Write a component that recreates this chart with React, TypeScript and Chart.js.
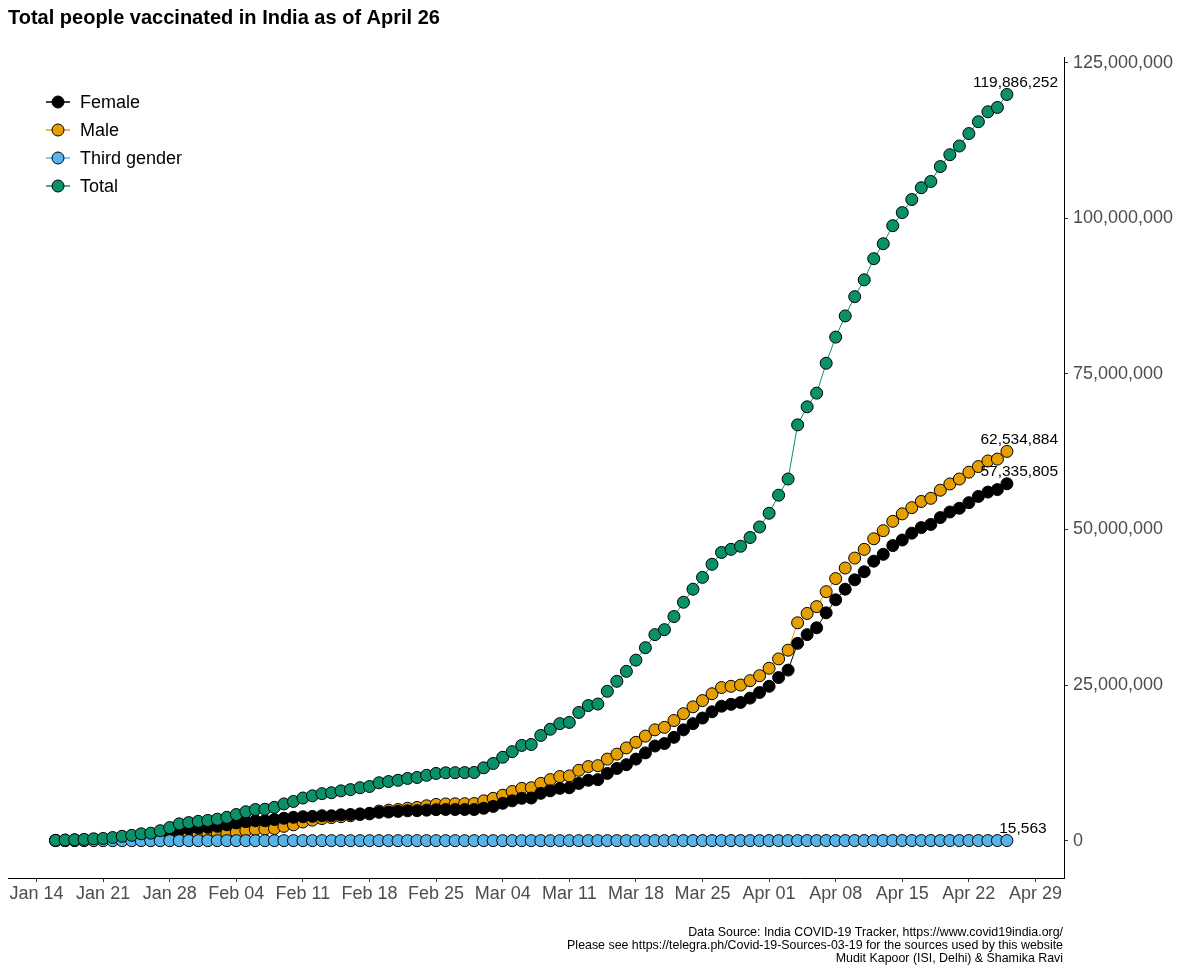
import React, { useEffect, useRef } from 'react';
import { Chart, registerables } from 'chart.js';

Chart.register(...registerables);

// x = days since Jan 14, 2021; first observation is Jan 16
const firstDayOffset = 2;

const seriesNames = ['Female', 'Male', 'Third gender', 'Total'];
const seriesColors = ['#000000', '#E69F00', '#56B4E9', '#0B9169'];

// cumulative people vaccinated, in millions (Jan 16 .. Apr 26)
const femaleMillions = [
  0.03, 0.06, 0.09, 0.12, 0.18, 0.21, 0.30, 0.42, 0.51, 0.66,
  0.72, 0.96, 1.30, 1.70, 1.90, 2.05, 2.15, 2.30, 2.55, 2.85,
  3.05, 3.20, 3.20, 3.40, 3.60, 3.75, 3.85, 3.90, 4.00, 4.00,
  4.15, 4.20, 4.30, 4.40, 4.55, 4.60, 4.70, 4.80, 4.82, 4.90,
  4.98, 5.00, 5.00, 5.00, 5.00, 5.20, 5.50, 6.00, 6.40, 6.80,
  6.85, 7.60, 8.00, 8.40, 8.50, 9.20, 9.70, 9.80, 10.80, 11.60,
  12.20, 13.10, 14.10, 15.20, 15.60, 16.60, 17.80, 18.80, 19.70, 20.70,
  21.60, 21.90, 22.20, 22.90, 23.80, 24.80, 26.20, 27.40, 31.70, 33.10,
  34.20, 36.60, 38.70, 40.40, 41.90, 43.20, 44.90, 46.00, 47.40, 48.30,
  49.40, 50.30, 50.80, 51.90, 52.80, 53.40, 54.30, 55.30, 56.00, 56.40,
  57.335805,
];

const maleMillions = [
  0.02, 0.04, 0.06, 0.08, 0.12, 0.14, 0.20, 0.28, 0.34, 0.44,
  0.48, 0.64, 0.80, 1.00, 1.00, 1.05, 1.10, 1.15, 1.20, 1.35,
  1.60, 1.80, 1.85, 1.95, 2.30, 2.55, 3.00, 3.30, 3.55, 3.70,
  3.85, 4.00, 4.20, 4.30, 4.75, 4.90, 5.00, 5.20, 5.33, 5.60,
  5.82, 5.90, 5.92, 5.94, 5.96, 6.40, 6.80, 7.30, 7.90, 8.40,
  8.50, 9.20, 9.80, 10.30, 10.40, 11.30, 11.90, 12.05, 13.10, 13.90,
  14.90, 15.80, 16.80, 17.80, 18.20, 19.30, 20.40, 21.50, 22.50, 23.60,
  24.60, 24.80, 25.00, 25.70, 26.50, 27.70, 29.20, 30.60, 35.00, 36.50,
  37.60, 40.00, 42.10, 43.80, 45.40, 46.80, 48.50, 49.80, 51.30, 52.50,
  53.50, 54.50, 55.00, 56.30, 57.30, 58.10, 59.20, 60.10, 61.00, 61.30,
  62.534884,
];

// third gender, in thousands
const thirdGenderThousands = [
  0.02, 0.03, 0.05, 0.06, 0.08, 0.09, 0.12, 0.15, 0.18, 0.22,
  0.25, 0.31, 0.38, 0.45, 0.49, 0.52, 0.54, 0.57, 0.61, 0.66,
  0.72, 0.77, 0.78, 0.82, 0.88, 0.93, 1.00, 1.04, 1.08, 1.10,
  1.14, 1.16, 1.19, 1.21, 1.27, 1.29, 1.31, 1.35, 1.37, 1.41,
  1.45, 1.46, 1.46, 1.47, 1.47, 1.56, 1.64, 1.77, 1.88, 2.00,
  2.02, 2.20, 2.33, 2.45, 2.47, 2.68, 2.82, 2.85, 3.12, 3.33,
  3.54, 3.78, 4.04, 4.31, 4.41, 4.68, 4.98, 5.25, 5.50, 5.77,
  6.02, 6.08, 6.15, 6.33, 6.55, 6.84, 7.22, 7.55, 8.68, 9.06,
  9.35, 9.97, 10.52, 10.96, 11.36, 11.71, 12.15, 12.47, 12.84, 13.12,
  13.39, 13.64, 13.77, 14.08, 14.33, 14.51, 14.77, 15.02, 15.22, 15.31,
  15.563,
];

const totalMillions = [
  0.05, 0.10, 0.15, 0.20, 0.30, 0.35, 0.50, 0.70, 0.85, 1.10,
  1.20, 1.60, 2.10, 2.70, 2.90, 3.10, 3.25, 3.45, 3.75, 4.20,
  4.65, 5.00, 5.05, 5.35, 5.90, 6.30, 6.85, 7.20, 7.55, 7.70,
  8.00, 8.20, 8.50, 8.70, 9.30, 9.50, 9.70, 10.00, 10.15, 10.50,
  10.80, 10.90, 10.92, 10.94, 10.96, 11.70, 12.40, 13.40, 14.30, 15.30,
  15.45, 16.90, 17.90, 18.80, 19.00, 20.60, 21.70, 21.95, 24.00, 25.60,
  27.20, 29.00, 31.00, 33.10, 33.90, 36.00, 38.30, 40.40, 42.30, 44.40,
  46.30, 46.80, 47.30, 48.70, 50.40, 52.60, 55.50, 58.10, 66.80, 69.70,
  71.90, 76.70, 80.90, 84.30, 87.40, 90.10, 93.50, 95.90, 98.80, 100.90,
  103.00, 104.90, 105.90, 108.30, 110.20, 111.60, 113.60, 115.50, 117.10, 117.80,
  119.886252,
];

const xTickDays = [0, 7, 14, 21, 28, 35, 42, 49, 56, 63, 70, 77, 84, 91, 98, 105];
const xTickLabels = [
  'Jan 14', 'Jan 21', 'Jan 28', 'Feb 04', 'Feb 11', 'Feb 18', 'Feb 25', 'Mar 04',
  'Mar 11', 'Mar 18', 'Mar 25', 'Apr 01', 'Apr 08', 'Apr 15', 'Apr 22', 'Apr 29',
];
const yTickValues = [0, 25000000, 50000000, 75000000, 100000000, 125000000];

const titleText = 'Total people vaccinated in India as of April 26';
const captionLines = [
  'Data Source: India COVID-19 Tracker, https://www.covid19india.org/',
  'Please see https://telegra.ph/Covid-19-Sources-03-19 for the sources used by this website',
  'Mudit Kapoor (ISI, Delhi) & Shamika Ravi',
];

const FONT = '"Liberation Sans", Arial, Helvetica, sans-serif';
const fmt = (v: number) => Math.round(v).toLocaleString('en-US');

const toPoints = (vals: number[], unit: number) =>
  vals.map((v, i) => ({ x: firstDayOffset + i, y: v * unit }));

const decorPlugin = {
  id: 'decor',
  afterDatasetsDraw(chart: any) {
    const ctx = chart.ctx;
    const area = chart.chartArea;
    ctx.save();
    ctx.font = `15.5px ${FONT}`;
    ctx.fillStyle = '#000';
    ctx.textBaseline = 'middle';
    ctx.textAlign = 'left';
    chart.data.datasets.forEach((ds: any, di: number) => {
      const meta = chart.getDatasetMeta(di);
      const el = meta.data[meta.data.length - 1];
      if (!el) return;
      const txt = fmt(ds.data[ds.data.length - 1].y);
      const w = ctx.measureText(txt).width;
      let cx = el.x + 16;
      if (cx + w / 2 > area.right - 6) cx = area.right - 6 - w / 2;
      ctx.fillText(txt, cx - w / 2, el.y - 12);
    });
    ctx.restore();
  },
  afterDraw(chart: any) {
    const ctx = chart.ctx;
    ctx.save();
    ctx.fillStyle = '#000';
    ctx.font = `bold 20px ${FONT}`;
    ctx.textAlign = 'left';
    ctx.textBaseline = 'alphabetic';
    ctx.fillText(titleText, 8, 24);

    const rows = [102, 130, 158, 186];
    seriesNames.forEach((name, i) => {
      const y = rows[i];
      ctx.strokeStyle = seriesColors[i];
      ctx.lineWidth = 1.5;
      ctx.beginPath();
      ctx.moveTo(46, y);
      ctx.lineTo(70, y);
      ctx.stroke();
      ctx.beginPath();
      ctx.arc(58, y, 6, 0, Math.PI * 2);
      ctx.fillStyle = seriesColors[i];
      ctx.fill();
      ctx.lineWidth = 1;
      ctx.strokeStyle = '#000';
      ctx.stroke();
      ctx.fillStyle = '#000';
      ctx.font = `18px ${FONT}`;
      ctx.textBaseline = 'middle';
      ctx.fillText(name, 80, y + 1);
    });

    ctx.font = `12.4px ${FONT}`;
    ctx.fillStyle = '#000';
    ctx.textAlign = 'right';
    ctx.textBaseline = 'middle';
    captionLines.forEach((line, i) => {
      ctx.fillText(line, 1063, 933 + i * 13);
    });
    ctx.restore();
  },
};

export default function App() {
  const canvasRef = useRef<HTMLCanvasElement | null>(null);

  useEffect(() => {
    const canvas = canvasRef.current;
    if (!canvas) return;
    const mk = (idx: number, vals: number[], unit: number, order: number) => ({
      label: seriesNames[idx],
      data: toPoints(vals, unit),
      borderColor: seriesColors[idx],
      backgroundColor: seriesColors[idx],
      borderWidth: 1,
      pointRadius: 6,
      pointHoverRadius: 6,
      pointBorderWidth: 1,
      pointBorderColor: '#000',
      pointBackgroundColor: seriesColors[idx],
      tension: 0,
      order,
    });

    const chart = new Chart(canvas, {
      type: 'line',
      data: {
        datasets: [
          mk(3, totalMillions, 1e6, 0),
          mk(2, thirdGenderThousands, 1e3, 1),
          mk(0, femaleMillions, 1e6, 2),
          mk(1, maleMillions, 1e6, 3),
        ],
      },
      options: {
        responsive: false,
        animation: false,
        devicePixelRatio: 1,
        layout: { padding: { top: 57, left: 8, right: 0, bottom: 0 } },
        plugins: {
          legend: { display: false },
          title: { display: false },
          tooltip: { enabled: false },
        },
        scales: {
          x: {
            type: 'linear',
            position: 'bottom',
            min: -3,
            max: 108,
            afterBuildTicks: (scale: any) => {
              scale.ticks = xTickDays.map((v) => ({ value: v }));
            },
            afterFit: (scale: any) => {
              scale.height = 97;
            },
            ticks: {
              autoSkip: false,
              maxRotation: 0,
              minRotation: 0,
              padding: 1,
              color: '#4D4D4D',
              font: { family: FONT, size: 18 },
              callback: (_v: any, i: number) => xTickLabels[i],
            },
            grid: {
              display: true,
              drawOnChartArea: false,
              drawTicks: true,
              tickLength: 4,
              color: '#333333',
            },
            border: { display: true, color: '#000000', width: 1 },
          },
          y: {
            type: 'linear',
            position: 'right',
            min: -6000000,
            max: 125900000,
            afterBuildTicks: (scale: any) => {
              scale.ticks = yTickValues.map((v) => ({ value: v }));
            },
            afterFit: (scale: any) => {
              scale.width = 136;
            },
            ticks: {
              padding: 5,
              color: '#4D4D4D',
              font: { family: FONT, size: 18 },
              callback: (v: any) => fmt(Number(v)),
            },
            grid: {
              display: true,
              drawOnChartArea: false,
              drawTicks: true,
              tickLength: 4,
              color: '#333333',
            },
            border: { display: true, color: '#000000', width: 1 },
          },
        },
      },
      plugins: [decorPlugin],
    });
    return () => chart.destroy();
  }, []);

  return (
    <div style={{ position: 'absolute', left: 0, top: 0, width: 1200, height: 975, background: '#fff' }}>
      <canvas ref={canvasRef} width={1200} height={975} style={{ display: 'block' }} />
    </div>
  );
}
